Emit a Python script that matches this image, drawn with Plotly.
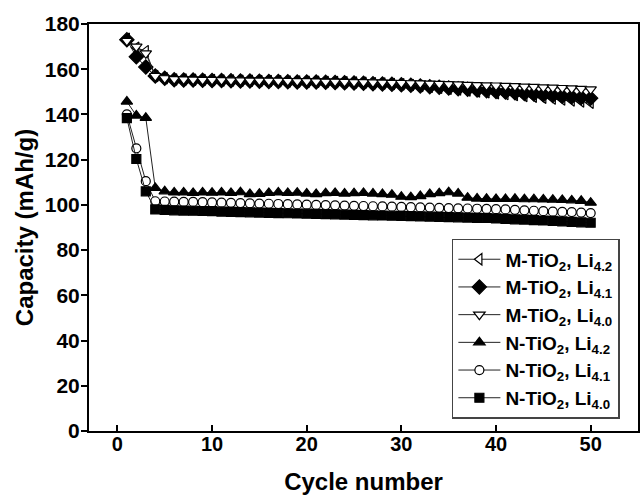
import plotly.graph_objects as go

cycles = list(range(1, 51))

m_li42 = [173.5, 169.5, 168.0, 157.0, 156.0,
          155.5, 155.5, 155.3, 155.2, 155.2, 155.0, 155.0, 154.9, 154.9, 154.8,
          154.8, 154.7, 154.6, 154.6, 154.5, 154.5, 154.4, 154.3, 154.2, 154.1,
          154.0, 153.8, 153.7, 153.5, 153.3,
          153.0, 152.6, 152.2, 151.8, 151.4, 151.0, 150.6, 150.2, 149.8, 149.4,
          149.0, 148.6, 148.2, 147.8, 147.4, 147.0, 146.6, 146.2, 145.7, 145.2]

m_li41 = [173.0, 165.5, 161.0, 157.0, 156.0,
          155.3, 155.2, 155.2, 155.1, 155.0, 155.0, 154.9, 154.8, 154.8, 154.7,
          154.6, 154.6, 154.5, 154.4, 154.3, 154.3, 154.2, 154.1, 154.0, 153.9,
          153.8, 153.6, 153.5, 153.3, 153.1,
          152.9, 152.6, 152.3, 152.0, 151.7, 151.4, 151.1, 150.8, 150.5, 150.2,
          149.9, 149.6, 149.3, 149.0, 148.7, 148.4, 148.1, 147.8, 147.5, 147.2]

m_li40 = [172.5, 170.0, 167.0, 157.0, 156.0,
          155.6, 155.5, 155.4, 155.3, 155.3, 155.2, 155.1, 155.1, 155.0, 155.0,
          154.9, 154.9, 154.8, 154.7, 154.7, 154.6, 154.5, 154.5, 154.4, 154.3,
          154.3, 154.2, 154.1, 154.0, 153.9,
          153.8, 153.7, 153.6, 153.5, 153.4, 153.3, 153.1, 153.0, 152.9, 152.8,
          152.6, 152.5, 152.3, 152.2, 152.0, 151.9, 151.7, 151.5, 151.3, 151.1]

n_li42 = [145.7, 139.5, 138.5, 107.5,
          106.0, 105.5, 105.5, 105.3, 105.5, 105.4, 105.5, 105.3, 105.6, 104.8,
          104.9, 105.3, 105.5, 105.3, 105.4, 105.0, 104.8, 105.2, 105.3, 105.0,
          105.2, 105.3, 105.0, 104.8, 104.5, 103.6, 103.4, 103.9, 104.8, 105.2,
          105.6, 105.0, 103.2, 102.8, 102.7, 102.6, 102.6, 102.7, 102.5, 102.5,
          102.4, 102.3, 102.2, 102.0, 101.8, 101.0]

n_li41 = [140.0, 125.0, 110.5, 101.6,
          101.5, 101.4, 101.3, 101.3, 101.2, 101.1, 101.0, 100.9, 100.8, 100.7,
          100.6, 100.5, 100.4, 100.3, 100.2, 100.1, 100.0, 99.9, 99.8, 99.7,
          99.6, 99.5, 99.4, 99.3, 99.2, 99.1, 99.0, 98.9, 98.8, 98.7,
          98.6, 98.5, 98.4, 98.3, 98.2, 98.1, 98.0, 97.8, 97.6, 97.4,
          97.2, 97.0, 96.9, 96.8, 96.6, 96.4]

n_li40 = [138.4, 120.3, 106.0, 98.0,
          97.8, 97.6, 97.5, 97.4, 97.3, 97.2, 97.0, 96.9, 96.8, 96.7,
          96.6, 96.5, 96.4, 96.3, 96.2, 96.1, 96.0, 95.9, 95.8, 95.7,
          95.6, 95.5, 95.4, 95.3, 95.2, 95.1, 95.0, 94.9, 94.8, 94.7,
          94.6, 94.5, 94.4, 94.3, 94.2, 94.0, 93.8, 93.6, 93.5, 93.3,
          93.1, 92.9, 92.7, 92.5, 92.3, 92.1]

names = ["M-TiO<sub>2</sub>, Li<sub>4.2</sub>",
         "M-TiO<sub>2</sub>, Li<sub>4.1</sub>",
         "M-TiO<sub>2</sub>, Li<sub>4.0</sub>",
         "N-TiO<sub>2</sub>, Li<sub>4.2</sub>",
         "N-TiO<sub>2</sub>, Li<sub>4.1</sub>",
         "N-TiO<sub>2</sub>, Li<sub>4.0</sub>"]
series = [m_li42, m_li41, m_li40, n_li42, n_li41, n_li40]
symbols = ["triangle-left", "diamond", "triangle-down", "triangle-up", "circle", "square"]
fills = ["white", "black", "white", "black", "white", "black"]
sizes = [10, 11, 10, 10, 9, 9]

x_ticks = [0, 10, 20, 30, 40, 50]
y_ticks = [0, 20, 40, 60, 80, 100, 120, 140, 160, 180]

fig = go.Figure()
for name, ys, sym, fc, sz in zip(names, series, symbols, fills, sizes):
    fig.add_trace(go.Scatter(
        x=cycles[:len(ys)], y=ys, name=name, mode="lines+markers",
        line=dict(color="#222222", width=1),
        marker=dict(symbol=sym, size=sz, color=fc,
                    line=dict(color="black", width=1.2)),
    ))

font_family = "Liberation Sans, Arial, sans-serif"
fig.update_layout(
    width=641, height=495,
    margin=dict(l=89, r=1, t=24, b=63),
    paper_bgcolor="white", plot_bgcolor="white",
    font=dict(family=font_family, color="black"),
    showlegend=True,
    legend=dict(
        x=0.661, y=0.472, xanchor="left", yanchor="top",
        bgcolor="white", bordercolor="#444444", borderwidth=1.5,
        font=dict(family=font_family, size=19, color="black", weight="bold"),
        itemwidth=42, tracegroupgap=0,
    ),
    xaxis=dict(
        range=[-3, 55], tickvals=x_ticks, ticks="inside", ticklen=6,
        tickwidth=1.5, tickcolor="black",
        showline=True, linewidth=2, linecolor="black", mirror=True,
        showgrid=False, zeroline=False,
        tickfont=dict(family=font_family, size=20, weight="bold"),
        ticklabelstandoff=-6,
        title=dict(text="Cycle number", standoff=22,
                   font=dict(family=font_family, size=24, weight="bold")),
    ),
    yaxis=dict(
        range=[0, 180], tickvals=y_ticks, ticks="outside", ticklen=6,
        tickwidth=1.5, tickcolor="black",
        showline=True, linewidth=2, linecolor="black", mirror=True,
        showgrid=False, zeroline=False,
        tickfont=dict(family=font_family, size=21, weight="bold"),
        ticklabelstandoff=-3,
        title=dict(text="Capacity (mAh/g)", standoff=4,
                   font=dict(family=font_family, size=24, weight="bold")),
    ),
)

fig.write_html("out.html")
